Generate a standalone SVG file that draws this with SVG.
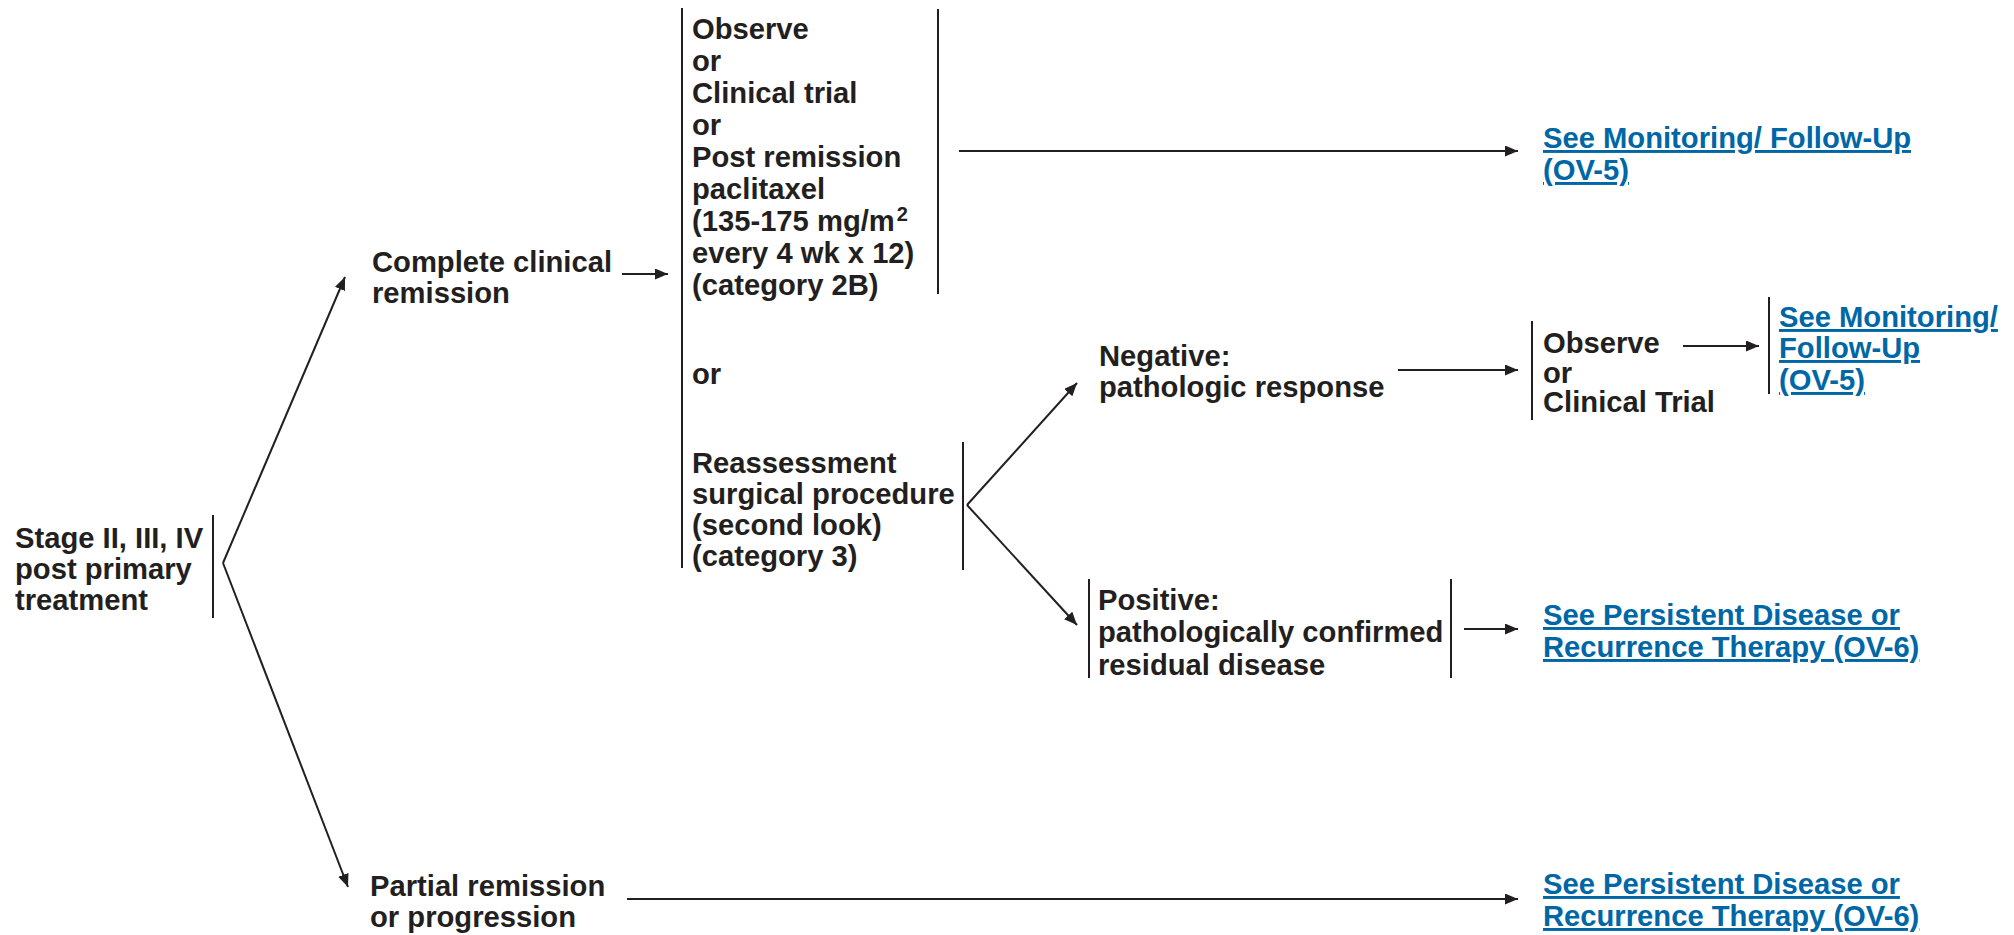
<svg xmlns="http://www.w3.org/2000/svg" width="2014" height="935" viewBox="0 0 2014 935">
  <defs>
    <style>
      .t { font-family: "Liberation Sans", Arial, Helvetica, sans-serif; font-weight: bold; font-size: 29.2px; fill: #231f20; }
      .lk { fill: #0067a6; text-decoration: underline; }
      .sup { font-size: 20px; }
      .bar { stroke: #231f20; stroke-width: 2; fill: none; }
      .ln { stroke: #231f20; stroke-width: 2; fill: none; marker-end: url(#arrow); }
    </style>
    <marker id="arrow" markerUnits="userSpaceOnUse" markerWidth="14" markerHeight="12" refX="13" refY="5.5" orient="auto">
      <path d="M0,0 L13,5.5 L0,11 z" fill="#231f20"/>
    </marker>
  </defs>
  <rect width="2014" height="935" fill="#ffffff"/>

  <!-- connectors -->
  <g id="connectors">
    <line class="ln" x1="223" y1="563" x2="345" y2="277"/>
    <line class="ln" x1="223" y1="563" x2="348" y2="887"/>
    <line class="ln" x1="622" y1="274" x2="668" y2="274"/>
    <line class="ln" x1="959" y1="151" x2="1518" y2="151"/>
    <line class="ln" x1="967" y1="505" x2="1077" y2="383"/>
    <line class="ln" x1="967" y1="505" x2="1077" y2="625"/>
    <line class="ln" x1="1398" y1="370" x2="1518" y2="370"/>
    <line class="ln" x1="1683" y1="346" x2="1759" y2="346"/>
    <line class="ln" x1="1464" y1="629" x2="1518" y2="629"/>
    <line class="ln" x1="627" y1="899" x2="1518" y2="899"/>
  </g>

  <!-- Stage II, III, IV -->
  <g id="stage">
    <text class="t" x="15" y="548">Stage II, III, IV</text>
    <text class="t" x="15" y="579">post primary</text>
    <text class="t" x="15" y="610">treatment</text>
    <line class="bar" x1="213" y1="515" x2="213" y2="618"/>
  </g>

  <!-- Complete clinical remission -->
  <g id="complete">
    <text class="t" x="372" y="272">Complete clinical</text>
    <text class="t" x="372" y="303">remission</text>
  </g>

  <!-- choices after complete remission -->
  <g id="choices">
    <line class="bar" x1="682" y1="8" x2="682" y2="568"/>
    <text class="t" x="692" y="384">or</text>
  </g>

  <g id="observe-options">
    <text class="t" x="692" y="39">Observe</text>
    <text class="t" x="692" y="71">or</text>
    <text class="t" x="692" y="103">Clinical trial</text>
    <text class="t" x="692" y="135">or</text>
    <text class="t" x="692" y="167">Post remission</text>
    <text class="t" x="692" y="199">paclitaxel</text>
    <text class="t" x="692" y="231">(135-175 mg/m<tspan class="sup" dx="2" y="221">2</tspan></text>
    <text class="t" x="692" y="263">every 4 wk x 12)</text>
    <text class="t" x="692" y="295">(category 2B)</text>
    <line class="bar" x1="938" y1="9" x2="938" y2="294"/>
  </g>

  <g id="reassessment">
    <text class="t" x="692" y="473">Reassessment</text>
    <text class="t" x="692" y="504">surgical procedure</text>
    <text class="t" x="692" y="535">(second look)</text>
    <text class="t" x="692" y="566">(category 3)</text>
    <line class="bar" x1="963" y1="442" x2="963" y2="570"/>
  </g>

  <!-- Negative result -->
  <g id="negative">
    <text class="t" x="1099" y="366">Negative:</text>
    <text class="t" x="1099" y="397">pathologic response</text>
  </g>

  <g id="observe-trial">
    <line class="bar" x1="1532" y1="321" x2="1532" y2="420"/>
    <text class="t" x="1543" y="353">Observe</text>
    <text class="t" x="1543" y="383">or</text>
    <text class="t" x="1543" y="412">Clinical Trial</text>
  </g>

  <!-- Positive result -->
  <g id="positive">
    <line class="bar" x1="1089" y1="579" x2="1089" y2="678"/>
    <text class="t" x="1098" y="610">Positive:</text>
    <text class="t" x="1098" y="642">pathologically confirmed</text>
    <text class="t" x="1098" y="675">residual disease</text>
    <line class="bar" x1="1451" y1="579" x2="1451" y2="678"/>
  </g>

  <!-- Partial remission -->
  <g id="partial">
    <text class="t" x="370" y="896">Partial remission</text>
    <text class="t" x="370" y="927">or progression</text>
  </g>

  <!-- references -->
  <g id="link-followup-1">
    <text class="t lk" x="1543" y="148">See Monitoring/ Follow-Up</text>
    <text class="t lk" x="1543" y="180">(OV-5)</text>
  </g>

  <g id="link-followup-2">
    <line class="bar" x1="1769" y1="297" x2="1769" y2="394"/>
    <text class="t lk" x="1779" y="327">See Monitoring/</text>
    <text class="t lk" x="1779" y="358">Follow-Up</text>
    <text class="t lk" x="1779" y="390">(OV-5)</text>
  </g>

  <g id="link-persistent-1">
    <text class="t lk" x="1543" y="625">See Persistent Disease or</text>
    <text class="t lk" x="1543" y="657">Recurrence Therapy (OV-6)</text>
  </g>

  <g id="link-persistent-2">
    <text class="t lk" x="1543" y="894">See Persistent Disease or</text>
    <text class="t lk" x="1543" y="926">Recurrence Therapy (OV-6)</text>
  </g>
</svg>
